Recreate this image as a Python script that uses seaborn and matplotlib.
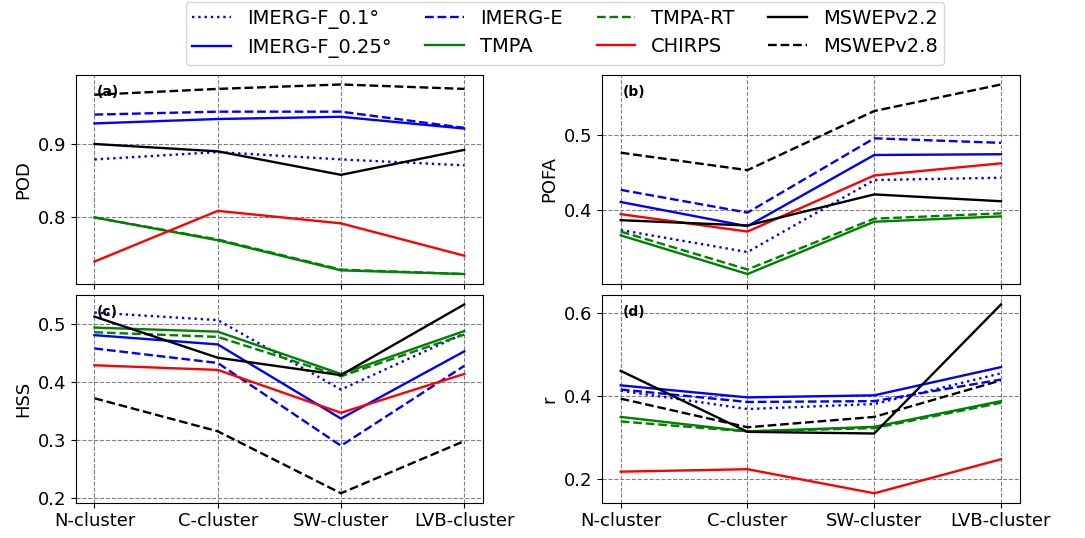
import matplotlib
matplotlib.use("Agg")
import matplotlib.pyplot as plt
import seaborn as sns
import pandas as pd

clusters = ["N-cluster", "C-cluster", "SW-cluster", "LVB-cluster"]
products = ["IMERG-F_0.1°", "IMERG-F_0.25°", "IMERG-E", "TMPA",
            "TMPA-RT", "CHIRPS", "MSWEPv2.2", "MSWEPv2.8"]

# Probability of detection per cluster
pod = {
    "IMERG-F_0.1°":  [0.879, 0.889, 0.879, 0.871],
    "IMERG-F_0.25°": [0.928, 0.934, 0.937, 0.921],
    "IMERG-E":       [0.940, 0.944, 0.944, 0.922],
    "TMPA":          [0.800, 0.769, 0.728, 0.723],
    "TMPA-RT":       [0.800, 0.770, 0.729, 0.723],
    "CHIRPS":        [0.740, 0.809, 0.792, 0.748],
    "MSWEPv2.2":     [0.900, 0.890, 0.858, 0.892],
    "MSWEPv2.8":     [0.967, 0.975, 0.981, 0.975],
}

# Probability of false alarm per cluster
pofa = {
    "IMERG-F_0.1°":  [0.374, 0.345, 0.440, 0.443],
    "IMERG-F_0.25°": [0.411, 0.379, 0.473, 0.474],
    "IMERG-E":       [0.427, 0.397, 0.495, 0.489],
    "TMPA":          [0.367, 0.316, 0.385, 0.392],
    "TMPA-RT":       [0.372, 0.322, 0.389, 0.396],
    "CHIRPS":        [0.395, 0.372, 0.446, 0.462],
    "MSWEPv2.2":     [0.387, 0.380, 0.421, 0.412],
    "MSWEPv2.8":     [0.476, 0.453, 0.531, 0.566],
}

# Heidke skill score per cluster
hss = {
    "IMERG-F_0.1°":  [0.520, 0.507, 0.387, 0.484],
    "IMERG-F_0.25°": [0.481, 0.465, 0.337, 0.453],
    "IMERG-E":       [0.458, 0.433, 0.290, 0.428],
    "TMPA":          [0.494, 0.487, 0.414, 0.488],
    "TMPA-RT":       [0.486, 0.478, 0.410, 0.482],
    "CHIRPS":        [0.429, 0.421, 0.347, 0.414],
    "MSWEPv2.2":     [0.513, 0.442, 0.412, 0.534],
    "MSWEPv2.8":     [0.372, 0.315, 0.208, 0.298],
}

# Correlation coefficient per cluster
corr = {
    "IMERG-F_0.1°":  [0.413, 0.369, 0.381, 0.455],
    "IMERG-F_0.25°": [0.426, 0.397, 0.402, 0.470],
    "IMERG-E":       [0.416, 0.386, 0.388, 0.440],
    "TMPA":          [0.350, 0.315, 0.326, 0.388],
    "TMPA-RT":       [0.339, 0.315, 0.323, 0.384],
    "CHIRPS":        [0.218, 0.224, 0.166, 0.248],
    "MSWEPv2.2":     [0.461, 0.314, 0.310, 0.621],
    "MSWEPv2.8":     [0.394, 0.325, 0.350, 0.438],
}

colors = {
    "IMERG-F_0.1°": "blue", "IMERG-F_0.25°": "blue", "IMERG-E": "blue",
    "TMPA": "green", "TMPA-RT": "green", "CHIRPS": "red",
    "MSWEPv2.2": "black", "MSWEPv2.8": "black",
}
styles = {
    "IMERG-F_0.1°": ":", "IMERG-F_0.25°": "-", "IMERG-E": "--",
    "TMPA": "-", "TMPA-RT": "--", "CHIRPS": "-",
    "MSWEPv2.2": "-", "MSWEPv2.8": "--",
}

plt.rcParams["font.family"] = ["DejaVu Sans"]
plt.rcParams["font.size"] = 13

fig = plt.figure(figsize=(10.85, 5.38), dpi=100)
W, H = 1085.0, 538.0
ax_a = fig.add_axes([76 / W, 1 - 283.5 / H, 406.7 / W, 208.5 / H])
ax_b = fig.add_axes([601.7 / W, 1 - 283.5 / H, 418.3 / W, 208.5 / H], sharex=ax_a)
ax_c = fig.add_axes([76 / W, 1 - 502.7 / H, 406.7 / W, 207.7 / H], sharex=ax_a)
ax_d = fig.add_axes([601.7 / W, 1 - 502.7 / H, 418.3 / W, 207.7 / H], sharex=ax_a)

panels = [
    (ax_a, pod, "POD", "(a)"),
    (ax_b, pofa, "POFA", "(b)"),
    (ax_c, hss, "HSS", "(c)"),
    (ax_d, corr, "r", "(d)"),
]

for ax, metric, ylabel, tag in panels:
    for name in products:
        df = pd.DataFrame({"cluster": clusters, "value": metric[name]})
        sns.lineplot(data=df, x="cluster", y="value", ax=ax, sort=False,
                     color=colors[name], linestyle=styles[name],
                     linewidth=1.7, label=name, legend=False)
    ax.set_ylabel(ylabel, fontsize=13)
    ax.set_xlabel("")
    ax.tick_params(labelsize=13)
    ax.grid(True, linestyle="--", color="gray", linewidth=0.8)
    ax.text(0.05, 0.92, tag, transform=ax.transAxes, fontsize=10,
            fontweight="bold", va="center", ha="left")

for ax in (ax_a, ax_b):
    ax.tick_params(labelbottom=False)

ax_a.set_yticks([0.8, 0.9])
ax_b.set_yticks([0.4, 0.5])
ax_c.set_yticks([0.2, 0.3, 0.4, 0.5])
ax_d.set_yticks([0.2, 0.4, 0.6])

handles, labels = ax_a.get_legend_handles_labels()
fig.legend(handles, labels, loc="upper center", ncol=4, fontsize=14,
           bbox_to_anchor=(0.5207, 1 - 2 / H), borderaxespad=0.0,
           frameon=True, handletextpad=0.8, borderpad=0.35,
           labelspacing=0.48, columnspacing=1.75)

fig.savefig("out.png", dpi=100)
